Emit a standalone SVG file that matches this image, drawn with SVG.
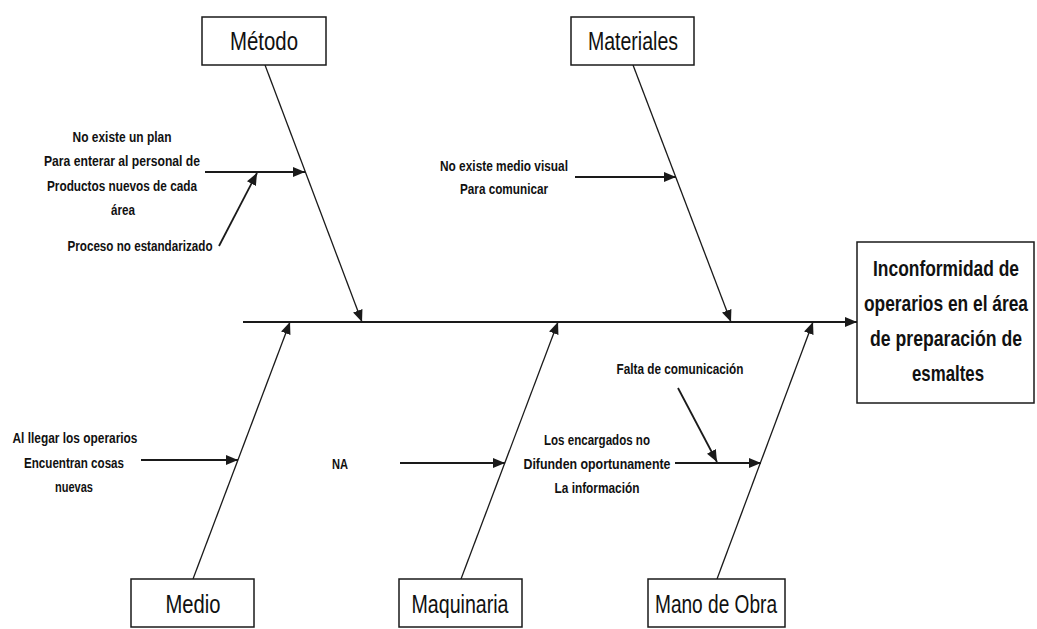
<svg xmlns="http://www.w3.org/2000/svg" width="1037" height="629" viewBox="0 0 1037 629">
  <style>
    .box { fill: #ffffff; stroke: #1a1a1a; stroke-width: 1.5; }
    .cat { font-family: "Liberation Sans Narrow", "Liberation Sans", Arial, sans-serif; font-size: 25px; fill: #111111; text-anchor: middle; }
    .eff { font-family: "Liberation Sans Narrow", "Liberation Sans", Arial, sans-serif; font-size: 22px; font-weight: bold; fill: #111111; text-anchor: middle; }
    .lbl { font-family: "Liberation Sans Narrow", "Liberation Sans", Arial, sans-serif; font-size: 15.5px; font-weight: bold; fill: #111111; text-anchor: middle; }
    .spine { stroke: #1a1a1a; stroke-width: 2; fill: none; }
    .bone { stroke: #1a1a1a; stroke-width: 1.3; fill: none; }
    .sub { stroke: #1a1a1a; stroke-width: 1.8; fill: none; }
  </style>
  <defs>
    <marker id="arrow" markerUnits="userSpaceOnUse" markerWidth="12" markerHeight="10" refX="12" refY="5" orient="auto">
      <path d="M0,0 L12,5 L0,10 Z" fill="#1a1a1a"/>
    </marker>
  </defs>
  <rect width="1037" height="629" fill="#ffffff"/>

  <!-- connectors: spine, category bones and cause arrows -->
  <g id="connectors">
    <line class="spine" x1="243" y1="322" x2="857" y2="322" marker-end="url(#arrow)"/>
    <line class="bone" x1="265" y1="65" x2="362" y2="322" marker-end="url(#arrow)"/>
    <line class="bone" x1="633" y1="65" x2="731" y2="322" marker-end="url(#arrow)"/>
    <line class="bone" x1="193" y1="579" x2="290" y2="322" marker-end="url(#arrow)"/>
    <line class="bone" x1="461" y1="579" x2="558" y2="322" marker-end="url(#arrow)"/>
    <line class="bone" x1="717" y1="579" x2="813" y2="322" marker-end="url(#arrow)"/>

    <line class="sub" x1="205" y1="172" x2="305" y2="172" marker-end="url(#arrow)"/>
    <line class="sub" x1="219" y1="246" x2="257" y2="173" marker-end="url(#arrow)"/>
    <line class="sub" x1="575" y1="177" x2="676" y2="177" marker-end="url(#arrow)"/>
    <line class="sub" x1="141" y1="460" x2="238" y2="460" marker-end="url(#arrow)"/>
    <line class="sub" x1="400" y1="463" x2="505" y2="463" marker-end="url(#arrow)"/>
    <line class="sub" x1="675" y1="463" x2="761" y2="463" marker-end="url(#arrow)"/>
    <line class="sub" x1="678" y1="388" x2="717" y2="462" marker-end="url(#arrow)"/>
  </g>

  <!-- category boxes -->
  <g id="metodo">
    <rect class="box" x="202" y="17" width="124" height="48"/>
    <text class="cat" x="264" y="50" textLength="68" lengthAdjust="spacingAndGlyphs">Método</text>
  </g>
  <g id="materiales">
    <rect class="box" x="571" y="17" width="123" height="48"/>
    <text class="cat" x="633" y="50" textLength="90" lengthAdjust="spacingAndGlyphs">Materiales</text>
  </g>
  <g id="medio">
    <rect class="box" x="131" y="579" width="123" height="48"/>
    <text class="cat" x="193" y="613" textLength="55" lengthAdjust="spacingAndGlyphs">Medio</text>
  </g>
  <g id="maquinaria">
    <rect class="box" x="399" y="579" width="123" height="48"/>
    <text class="cat" x="460" y="613" textLength="97" lengthAdjust="spacingAndGlyphs">Maquinaria</text>
  </g>
  <g id="mano-de-obra">
    <rect class="box" x="648" y="579" width="137" height="48"/>
    <text class="cat" x="716" y="613" textLength="122" lengthAdjust="spacingAndGlyphs">Mano de Obra</text>
  </g>

  <!-- effect box -->
  <g id="efecto">
    <rect class="box" x="857" y="242" width="177" height="161"/>
    <text class="eff" x="946" y="276" textLength="146" lengthAdjust="spacingAndGlyphs">Inconformidad de</text>
    <text class="eff" x="946" y="311" textLength="164" lengthAdjust="spacingAndGlyphs">operarios en el área</text>
    <text class="eff" x="946" y="346" textLength="152" lengthAdjust="spacingAndGlyphs">de preparación de</text>
    <text class="eff" x="948" y="381" textLength="72" lengthAdjust="spacingAndGlyphs">esmaltes</text>
  </g>

  <!-- cause labels -->
  <g id="causa-plan">
    <text class="lbl" x="122" y="142" textLength="99" lengthAdjust="spacingAndGlyphs">No existe un plan</text>
    <text class="lbl" x="122" y="166" textLength="156" lengthAdjust="spacingAndGlyphs">Para enterar al personal de</text>
    <text class="lbl" x="122" y="191" textLength="150" lengthAdjust="spacingAndGlyphs">Productos nuevos de cada</text>
    <text class="lbl" x="123" y="215" textLength="24" lengthAdjust="spacingAndGlyphs">área</text>
  </g>
  <g id="causa-proceso">
    <text class="lbl" x="140" y="251" textLength="145" lengthAdjust="spacingAndGlyphs">Proceso no estandarizado</text>
  </g>
  <g id="causa-visual">
    <text class="lbl" x="504" y="171" textLength="128" lengthAdjust="spacingAndGlyphs">No existe medio visual</text>
    <text class="lbl" x="504" y="194" textLength="88" lengthAdjust="spacingAndGlyphs">Para comunicar</text>
  </g>
  <g id="causa-operarios">
    <text class="lbl" x="75" y="443" textLength="125" lengthAdjust="spacingAndGlyphs">Al llegar los operarios</text>
    <text class="lbl" x="74" y="468" textLength="100" lengthAdjust="spacingAndGlyphs">Encuentran cosas</text>
    <text class="lbl" x="74" y="492" textLength="38" lengthAdjust="spacingAndGlyphs">nuevas</text>
  </g>
  <g id="causa-na">
    <text class="lbl" x="340" y="469" textLength="16" lengthAdjust="spacingAndGlyphs">NA</text>
  </g>
  <g id="causa-comunicacion">
    <text class="lbl" x="680" y="374" textLength="127" lengthAdjust="spacingAndGlyphs">Falta de comunicación</text>
  </g>
  <g id="causa-encargados">
    <text class="lbl" x="597" y="445" textLength="106" lengthAdjust="spacingAndGlyphs">Los encargados no</text>
    <text class="lbl" x="597" y="469" textLength="147" lengthAdjust="spacingAndGlyphs">Difunden oportunamente</text>
    <text class="lbl" x="597" y="493" textLength="85" lengthAdjust="spacingAndGlyphs">La información</text>
  </g>
</svg>
